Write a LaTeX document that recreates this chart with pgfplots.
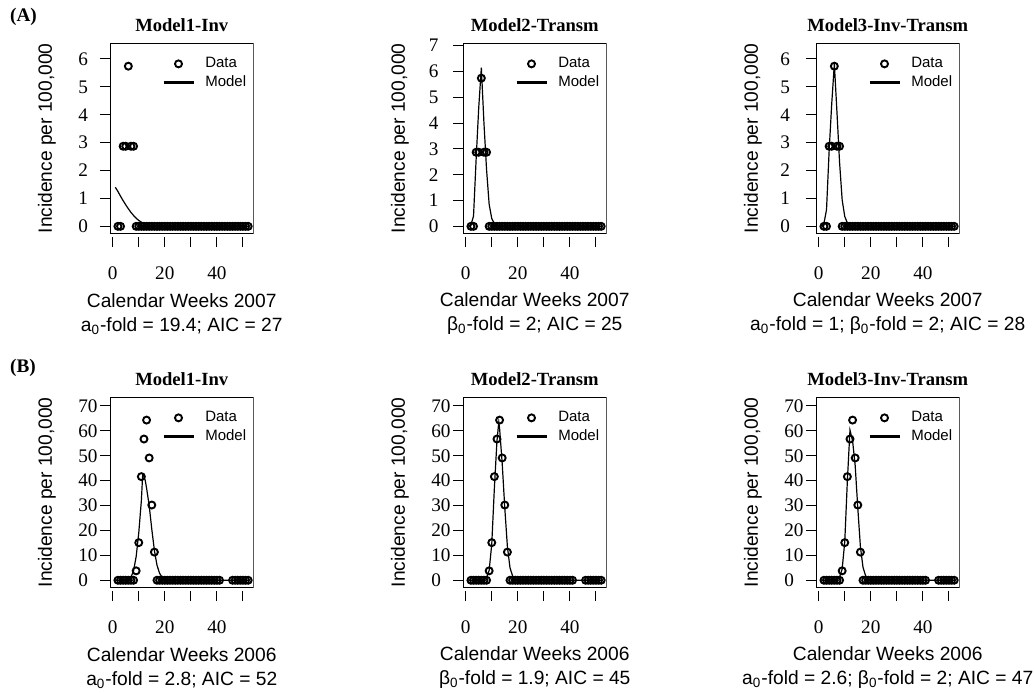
\documentclass[border=0pt]{standalone}
\usepackage{fontspec}
\setmainfont{Liberation Serif}
\newfontfamily\arial{Liberation Sans}
\usepackage{pgfplots}
\usepackage{pgfplotstable}
\pgfplotsset{compat=1.18}

\pgfplotstableread{
w y
2 0
3 0
4 2.87
5 2.87
6 5.74
7 2.87
8 2.87
9 0
10 0
11 0
12 0
13 0
14 0
15 0
16 0
17 0
18 0
19 0
20 0
21 0
22 0
23 0
24 0
25 0
26 0
27 0
28 0
29 0
30 0
31 0
32 0
33 0
34 0
35 0
36 0
37 0
38 0
39 0
40 0
41 0
42 0
43 0
44 0
45 0
46 0
47 0
48 0
49 0
50 0
51 0
52 0
}\dataA

\pgfplotstableread{
w y
2 0
3 0
4 0
5 0
6 0
7 0
8 0
9 3.78
10 15.1
11 41.6
12 56.7
13 64.3
14 49.1
15 30.2
16 11.3
17 0
18 0
19 0
20 0
21 0
22 0
23 0
24 0
25 0
26 0
27 0
28 0
29 0
30 0
31 0
32 0
33 0
34 0
35 0
36 0
37 0
38 0
39 0
40 0
41 0
46 0
47 0
48 0
49 0
50 0
51 0
52 0
}\dataB

\pgfplotstableread{
w y
1 1.40
2 1.25
3 1.08
4 0.92
5 0.77
6 0.63
7 0.50
8 0.39
9 0.29
10 0.21
11 0.15
12 0.10
13 0.06
14 0.035
15 0.02
16 0.01
18 0
52 0
}\modelAa

\pgfplotstableread{
w y
1 0
2 0.05
3 0.4
4 2.6
5 4.6
6 6.15
7 4.0
8 2.2
9 0.85
10 0.3
11 0.1
12 0.03
13 0
52 0
}\modelAb

\pgfplotstableread{
w y
1 0
2 0.1
3 0.6
4 2.7
5 4.4
6 5.82
7 4.1
8 2.3
9 0.95
10 0.35
11 0.12
12 0.04
13 0
52 0
}\modelAc

\pgfplotstableread{
w y
1 0
5 0.05
6 0.3
7 1.2
8 3.8
9 9.5
10 19
11 32
11.5 42.3
12 41.8
12.5 40
13 37
14 30
15 20.5
16 12
17 6
18 2.8
19 1.1
20 0.4
21 0.15
22 0.05
23 0
52 0
}\modelBa

\pgfplotstableread{
w y
1 0
6 0.05
7 0.2
8 1
9 4
10 14.5
11 37
12 56
12.7 63.5
13 61
14 47
15 29
16 13.5
17 5
18 1.7
19 0.5
20 0.15
21 0.04
22 0
52 0
}\modelBb

\pgfplotstableread{
w y
1 0
6 0.05
7 0.25
8 1.2
9 4.5
10 15.5
11 40
12 60.3
13 56
14 46
15 29
16 13.5
17 5.2
18 1.8
19 0.6
20 0.2
21 0.05
22 0
52 0
}\modelBc

\pgfplotsset{
  legend image code/.code={\draw[mark repeat=2,mark phase=2,#1] plot coordinates {(0pt,0pt) (7.5pt,0pt) (15pt,0pt)};},
  every axis title shift=0pt,
  panel/.style={
    scale only axis, width=71.75pt, height=95pt,
    anchor=south west,
    xmin=-1.04, xmax=54.04,
    axis x line*=bottom, axis y line*=left,
    axis x line shift=1.85pt,
    x axis line style={draw=none},
    y axis line style={draw=none},
    tick align=outside, major tick length=5pt,
    every tick/.style={black, line width=0.5pt},
    xtick={0,10,20,30,40,50}, xticklabels={0,,20,,40,},
    xticklabel shift=6.3pt,
    /pgf/number format/assume math mode=true,
    ticklabel style={font=\fontsize{9.6}{10}\selectfont},
    yticklabel style={anchor=west, xshift=-14.4pt},
    title style={font=\bfseries\fontsize{9.3}{11}\selectfont, at={(axis description cs:0.5,1)}, anchor=center, yshift=9pt},
    xlabel style={font=\arial\fontsize{9.6}{12}\selectfont, align=center, at={(axis description cs:0.5,0)}, anchor=center, yshift=-40.3pt},
    ylabel style={font=\arial\fontsize{9.6}{12}\selectfont, at={(axis description cs:-0.439,0.5)}, anchor=center},
    ylabel={Incidence per 100,000},
    legend style={at={(rel axis cs:0.3603,1)}, anchor=north west, yshift=-6.75pt,
      draw=none, fill=none, inner sep=0pt, row sep=2.6pt, column sep=5.2pt,
      font=\arial\fontsize{7.5}{8}\selectfont, nodes={inner sep=0pt}},
    legend cell align=left,
  },
  datastyle/.style={only marks, mark=o, black, mark size=1.75pt, mark options={line width=0.95pt}},
  modelstyle/.style={black, line width=0.6pt, no marks, forget plot},
}

\begin{document}
\begin{tikzpicture}
\path[use as bounding box] (0,0) rectangle (517pt,346pt);
\node[font=\bfseries\fontsize{9.6}{11}\selectfont] at (11.75pt,337.75pt) {(A)};
\node[font=\bfseries\fontsize{9.6}{11}\selectfont] at (11.5pt,162.25pt) {(B)};

% ---- Row A ----
\begin{axis}[panel, at={(55pt,229.35pt)}, ymin=-0.25, ymax=6.56, ytick={0,1,2,3,4,5,6},
  title={Model1-Inv},
  xlabel={Calendar Weeks 2007\\a\textsubscript{0}-fold = 19.4; AIC = 27}]
\addplot[datastyle] table[x=w,y=y] {\dataA};
\addlegendentry{Data}
\addplot[modelstyle] table[x=w,y=y] {\modelAa};
\addlegendimage{black, line width=1.4pt}
\addlegendentry{Model}
\draw[line width=0.5pt] (rel axis cs:0,0) rectangle (rel axis cs:1,1);
\end{axis}

\begin{axis}[panel, at={(231.5pt,229.35pt)}, ymin=-0.27, ymax=7.09, ytick={0,1,2,3,4,5,6,7},
  yticklabel style={xshift=-1.2pt},
  title={Model2-Transm},
  xlabel={Calendar Weeks 2007\\β\textsubscript{0}-fold = 2; AIC = 25}]
\addplot[datastyle] table[x=w,y=y] {\dataA};
\addlegendentry{Data}
\addplot[modelstyle] table[x=w,y=y] {\modelAb};
\addlegendimage{black, line width=1.4pt}
\addlegendentry{Model}
\draw[line width=0.5pt] (rel axis cs:0,0) rectangle (rel axis cs:1,1);
\end{axis}

\begin{axis}[panel, at={(408pt,229.35pt)}, ymin=-0.25, ymax=6.56, ytick={0,1,2,3,4,5,6},
  yticklabel style={xshift=-2pt},
  title={Model3-Inv-Transm},
  xlabel={Calendar Weeks 2007\\a\textsubscript{0}-fold = 1; β\textsubscript{0}-fold = 2; AIC = 28}]
\addplot[datastyle] table[x=w,y=y] {\dataA};
\addlegendentry{Data}
\addplot[modelstyle] table[x=w,y=y] {\modelAc};
\addlegendimage{black, line width=1.4pt}
\addlegendentry{Model}
\draw[line width=0.5pt] (rel axis cs:0,0) rectangle (rel axis cs:1,1);
\end{axis}

% ---- Row B ----
\begin{axis}[panel, at={(55pt,52.35pt)}, ymin=-2.83, ymax=73.45, ytick={0,10,20,30,40,50,60,70},
  title={Model1-Inv},
  xlabel={Calendar Weeks 2006\\a\textsubscript{0}-fold = 2.8; AIC = 52}]
\addplot[datastyle] table[x=w,y=y] {\dataB};
\addlegendentry{Data}
\addplot[modelstyle] table[x=w,y=y] {\modelBa};
\addlegendimage{black, line width=1.4pt}
\addlegendentry{Model}
\draw[line width=0.5pt] (rel axis cs:0,0) rectangle (rel axis cs:1,1);
\end{axis}

\begin{axis}[panel, at={(231.5pt,52.35pt)}, ymin=-2.83, ymax=73.45, ytick={0,10,20,30,40,50,60,70},
  title={Model2-Transm},
  xlabel={Calendar Weeks 2006\\β\textsubscript{0}-fold = 1.9; AIC = 45}]
\addplot[datastyle] table[x=w,y=y] {\dataB};
\addlegendentry{Data}
\addplot[modelstyle] table[x=w,y=y] {\modelBb};
\addlegendimage{black, line width=1.4pt}
\addlegendentry{Model}
\draw[line width=0.5pt] (rel axis cs:0,0) rectangle (rel axis cs:1,1);
\end{axis}

\begin{axis}[panel, at={(408pt,52.35pt)}, ymin=-2.83, ymax=73.45, ytick={0,10,20,30,40,50,60,70},
  title={Model3-Inv-Transm},
  xlabel={Calendar Weeks 2006\\a\textsubscript{0}-fold = 2.6; β\textsubscript{0}-fold = 2; AIC = 47}]
\addplot[datastyle] table[x=w,y=y] {\dataB};
\addlegendentry{Data}
\addplot[modelstyle] table[x=w,y=y] {\modelBc};
\addlegendimage{black, line width=1.4pt}
\addlegendentry{Model}
\draw[line width=0.5pt] (rel axis cs:0,0) rectangle (rel axis cs:1,1);
\end{axis}
\end{tikzpicture}
\end{document}
